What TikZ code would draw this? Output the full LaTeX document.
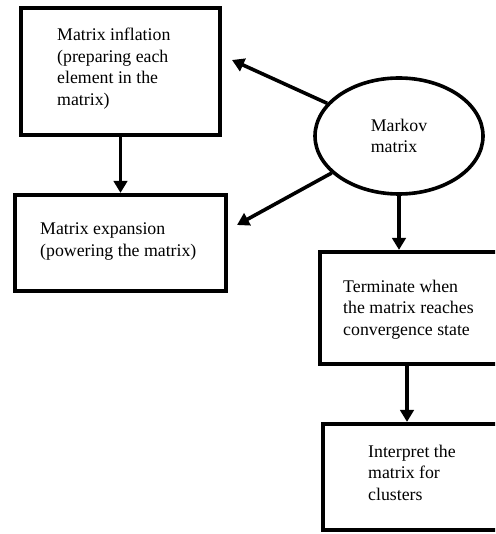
\documentclass[tikz,border=0pt]{standalone}
\usepackage{fontspec}
\setmainfont{Liberation Serif}
\usetikzlibrary{arrows.meta,shapes.geometric}
\begin{document}
\begin{tikzpicture}[x=1pt,y=-1pt,
  box/.style={draw,line width=4.2pt,rectangle,inner sep=0pt},
  txt/.style={anchor=north west,align=left,inner sep=0pt,font=\fontsize{17.8}{21.6}\selectfont},
  arr/.style={line width=3.6pt,-{Triangle[length=12pt,width=13.5pt]}}]
\useasboundingbox (0,0) rectangle (495,534);
\fill[white] (0,0) rectangle (495,534);
\clip (0,0) rectangle (495,534);
% boxes
\node[box,minimum width=199pt,minimum height=127pt] (b1) at (120.5,71.5) {};
\node[box,minimum width=211pt,minimum height=96pt] (b2) at (120.5,243) {};
\node[box,minimum width=200pt,minimum height=112pt] (b3) at (420,308) {};
\node[box,minimum width=200pt,minimum height=106pt] (b4) at (423,477) {};
% texts
\node[txt] (t1) at (57,27.8) {Matrix inflation\\(preparing each\\element in the\\matrix)};
\node[txt] (t2) at (40,222.8) {Matrix expansion\\(powering the matrix)};
\node[txt] (t3) at (343,279.8) {Terminate when\\the matrix reaches\\convergence state};
\node[txt] (t4) at (368,444.8) {Interpret the\\matrix for\\clusters};
% ellipse
\node[draw,ellipse,line width=3.6pt,minimum width=168pt,minimum height=116pt,inner sep=0pt,
      align=left,font=\fontsize{17.8}{20.5}\selectfont] (m) at (399,136) {Markov\\matrix};
% connectors
\coordinate (e1) at (232,60);
\coordinate (e2) at (237,225);
\coordinate (a34) at (407,0);
\draw[arr] (m) -- (e1);
\draw[arr] (m) -- (e2);
\draw[arr] (b1) -- (b2);
\draw[arr] (m) -- (m |- b3.north);
\draw[arr] (b3.south -| a34) -- (b4.north -| a34);
\end{tikzpicture}
\end{document}
